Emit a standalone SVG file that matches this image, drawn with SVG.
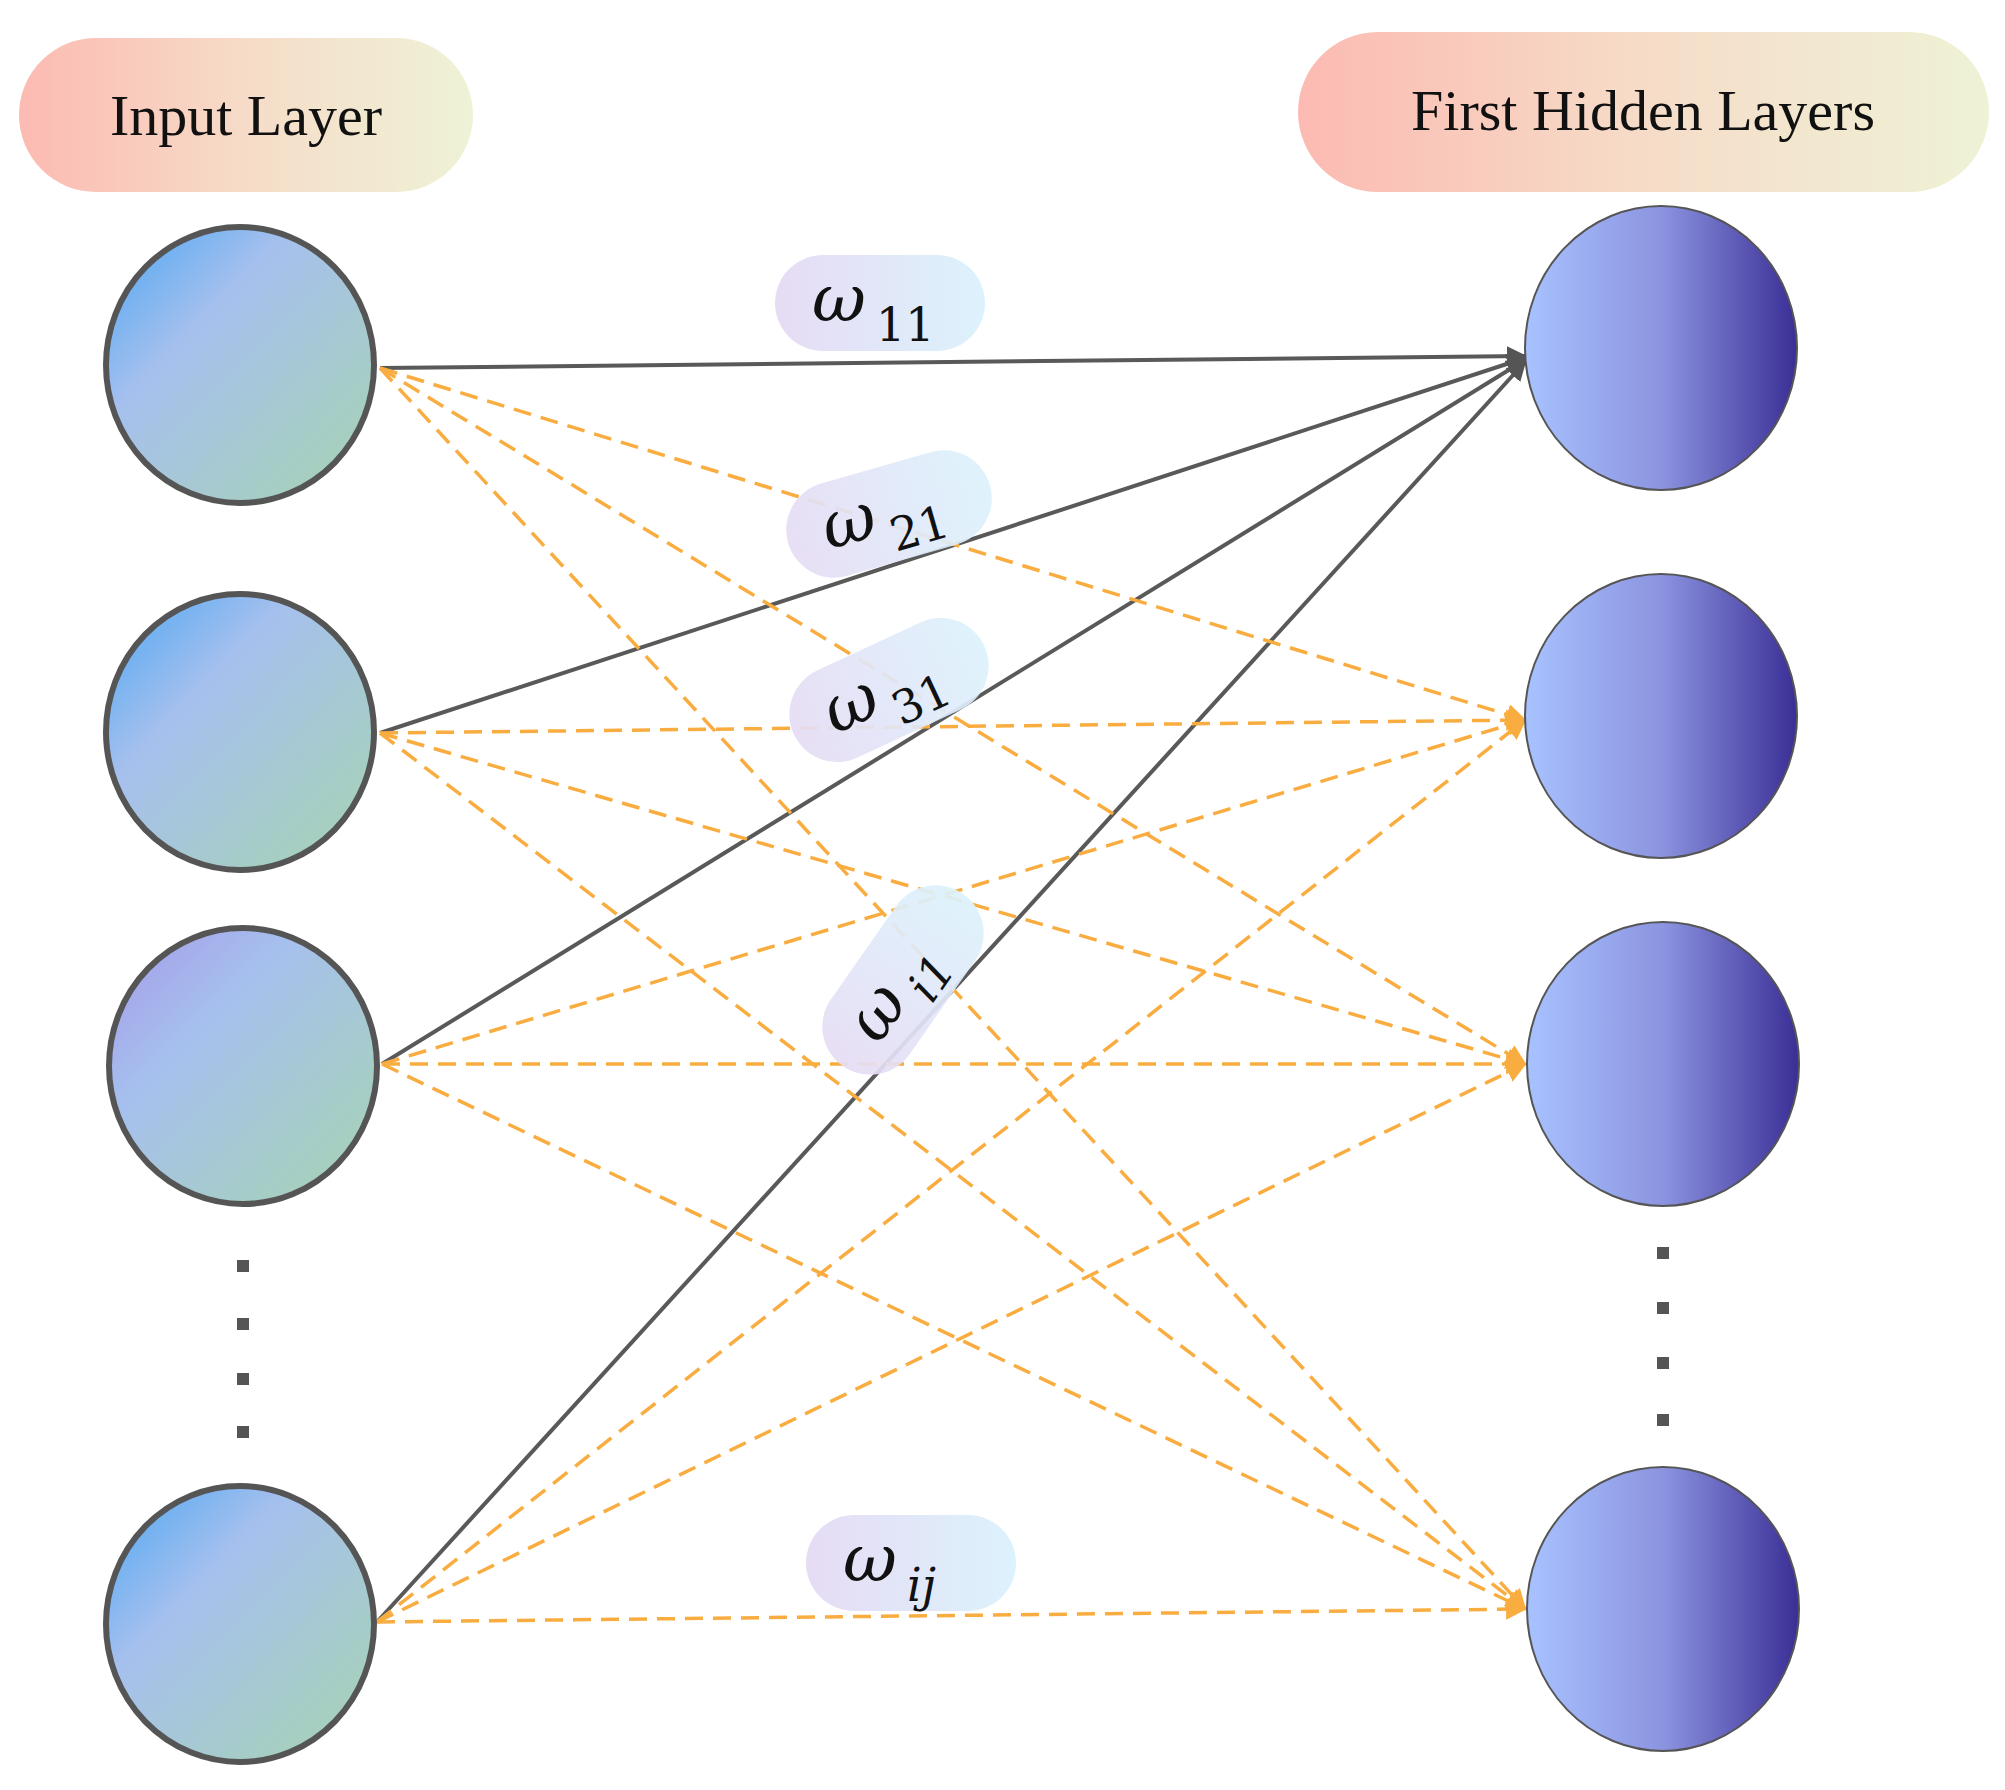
<svg xmlns="http://www.w3.org/2000/svg" width="2005" height="1790" viewBox="0 0 2005 1790">
<defs>
<linearGradient id="gIn" x1="0" y1="0" x2="1" y2="1">
<stop offset="0" stop-color="#4aa6f2"/><stop offset="0.35" stop-color="#a6c0ee"/><stop offset="1" stop-color="#a6d4b0"/>
</linearGradient>
<linearGradient id="gIn3" x1="0" y1="0" x2="1" y2="1">
<stop offset="0" stop-color="#a59ae8"/><stop offset="0.35" stop-color="#a6c0ee"/><stop offset="1" stop-color="#a6d4b0"/>
</linearGradient>
<linearGradient id="gHid" x1="0" y1="0" x2="1" y2="0">
<stop offset="0" stop-color="#a8c2ff"/><stop offset="0.5" stop-color="#8c94e0"/><stop offset="1" stop-color="#3a2e96"/>
</linearGradient>
<linearGradient id="gPill" x1="0" y1="0" x2="1" y2="0">
<stop offset="0" stop-color="#fcbab2"/><stop offset="0.5" stop-color="#f6dcc8"/><stop offset="1" stop-color="#eef2d6"/>
</linearGradient>
<linearGradient id="gW" x1="0" y1="0" x2="1" y2="0">
<stop offset="0" stop-color="#e6dcf4"/><stop offset="1" stop-color="#dcf2fc"/>
</linearGradient>
<marker id="aG" viewBox="0 0 10 10" refX="9" refY="5" markerWidth="5" markerHeight="5" orient="auto"><path d="M0,0L10,5L0,10z" fill="#555"/></marker>
<marker id="aO" viewBox="0 0 10 10" refX="9" refY="5" markerWidth="6" markerHeight="6" orient="auto"><path d="M0,0L10,5L0,10z" fill="#f9ad40"/></marker>
<style>
.in{stroke:#555;stroke-width:6}
.hid{fill:url(#gHid);stroke:#555;stroke-width:2}
.solid{stroke:#595959;stroke-width:4;fill:none;marker-end:url(#aG)}
.dash{stroke:#f9ad40;stroke-width:3.5;fill:none;stroke-dasharray:18 10;marker-end:url(#aO)}
.lbl{font-family:"Liberation Serif",serif;font-size:58px;fill:#111}
.w{font-family:"DejaVu Serif",serif;font-style:italic;font-size:66px;fill:#111}
.sub{font-family:"DejaVu Serif",serif;font-size:46px;fill:#111}
.dot{fill:#555}
</style>
</defs>
<g id="connectors">
<line class="solid" x1="380" y1="368" x2="1525" y2="356"/>
<line class="solid" x1="380" y1="733" x2="1525" y2="358"/>
<line class="solid" x1="382" y1="1064" x2="1525" y2="360"/>
<line class="solid" x1="377" y1="1622" x2="1525" y2="362"/>
<line class="dash" x1="380" y1="368" x2="1525" y2="720"/>
<line class="dash" x1="380" y1="368" x2="1525" y2="1064"/>
<line class="dash" x1="380" y1="368" x2="1525" y2="1609"/>
<line class="dash" x1="380" y1="733" x2="1525" y2="720"/>
<line class="dash" x1="380" y1="733" x2="1525" y2="1064"/>
<line class="dash" x1="380" y1="733" x2="1525" y2="1609"/>
<line class="dash" x1="382" y1="1064" x2="1525" y2="720"/>
<line class="dash" x1="382" y1="1064" x2="1525" y2="1064"/>
<line class="dash" x1="382" y1="1064" x2="1525" y2="1609"/>
<line class="dash" x1="377" y1="1622" x2="1525" y2="720"/>
<line class="dash" x1="377" y1="1622" x2="1525" y2="1064"/>
<line class="dash" x1="377" y1="1622" x2="1525" y2="1609"/>
</g>
<g id="label-input"><rect x="19" y="38" width="454" height="154" rx="77" fill="url(#gPill)"/><text class="lbl" x="246" y="135" text-anchor="middle">Input Layer</text></g>
<g id="label-hidden"><rect x="1298" y="32" width="691" height="160" rx="80" fill="url(#gPill)"/><text class="lbl" x="1643" y="130" text-anchor="middle">First Hidden Layers</text></g>
<g id="in1"><ellipse class="in" fill="url(#gIn)" cx="240" cy="365" rx="134" ry="138"/></g>
<g id="in2"><ellipse class="in" fill="url(#gIn)" cx="240" cy="732" rx="134" ry="138"/></g>
<g id="in3"><ellipse class="in" fill="url(#gIn3)" cx="243" cy="1066" rx="134" ry="138"/></g>
<g id="inN"><ellipse class="in" fill="url(#gIn)" cx="240" cy="1624" rx="134" ry="138"/></g>
<g id="in-dots"><rect class="dot" x="237" y="1260" width="12" height="12"/><rect class="dot" x="237" y="1318" width="12" height="12"/><rect class="dot" x="237" y="1373" width="12" height="12"/><rect class="dot" x="237" y="1426" width="12" height="12"/></g>
<g id="h1"><ellipse class="hid" cx="1661" cy="348" rx="136" ry="142"/></g>
<g id="h2"><ellipse class="hid" cx="1661" cy="716" rx="136" ry="142"/></g>
<g id="h3"><ellipse class="hid" cx="1663" cy="1064" rx="136" ry="142"/></g>
<g id="hN"><ellipse class="hid" cx="1663" cy="1609" rx="136" ry="142"/></g>
<g id="h-dots"><rect class="dot" x="1657" y="1247" width="12" height="12"/><rect class="dot" x="1657" y="1302" width="12" height="12"/><rect class="dot" x="1657" y="1357" width="12" height="12"/><rect class="dot" x="1657" y="1414" width="12" height="12"/></g>
<g id="w11" transform="translate(880,303)"><rect x="-105" y="-48" width="210" height="96" rx="48" fill="url(#gW)"/><text x="-68" y="18" class="w">ω</text><text x="-4" y="38" class="sub">11</text></g>
<g id="w21" transform="translate(889,514) rotate(-16)"><rect x="-105" y="-48" width="210" height="96" rx="48" fill="url(#gW)" opacity="0.92"/><text x="-68" y="18" class="w">ω</text><text x="-4" y="38" class="sub">21</text></g>
<g id="w31" transform="translate(889,690) rotate(-25)"><rect x="-105" y="-48" width="210" height="96" rx="48" fill="url(#gW)" opacity="0.92"/><text x="-68" y="18" class="w">ω</text><text x="-4" y="38" class="sub">31</text></g>
<g id="wi1" transform="translate(903,980) rotate(-55)"><rect x="-105" y="-48" width="210" height="96" rx="48" fill="url(#gW)" opacity="0.92"/><text x="-68" y="18" class="w">ω</text><text x="-4" y="38" class="sub" font-style="italic">i1</text></g>
<g id="wij" transform="translate(911,1563)"><rect x="-105" y="-48" width="210" height="96" rx="48" fill="url(#gW)"/><text x="-68" y="18" class="w">ω</text><text x="-4" y="38" class="sub" font-style="italic">ij</text></g>
</svg>
